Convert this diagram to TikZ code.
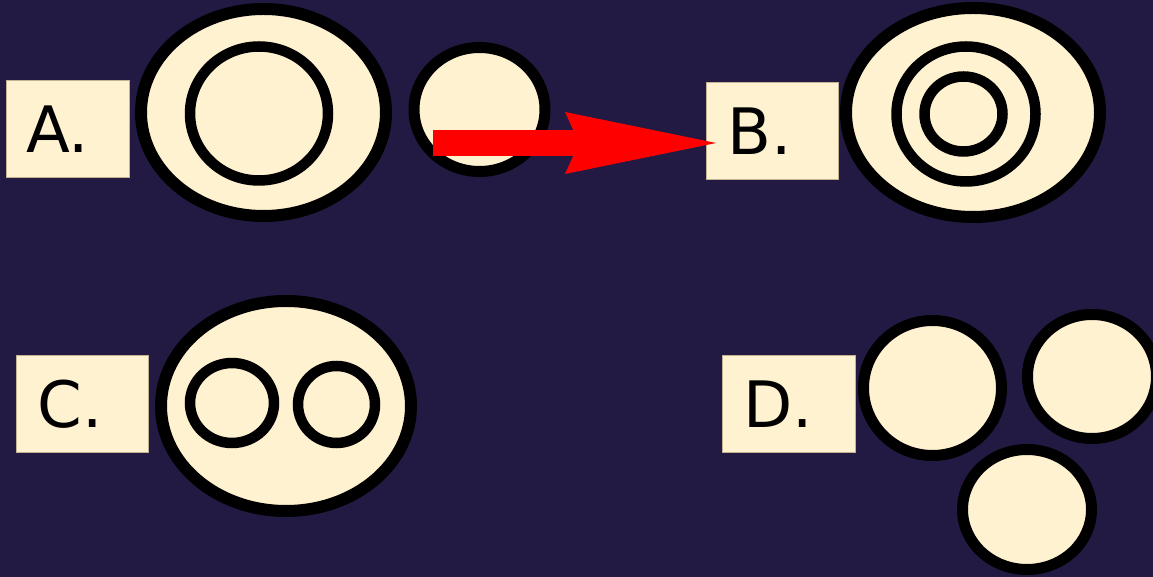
\documentclass[tikz,border=0pt]{standalone}
\usepackage{fontspec}
\setmainfont{DejaVu Sans}
\usetikzlibrary{shapes.geometric,arrows.meta}
\definecolor{bgnavy}{RGB}{34,26,66}
\definecolor{cream}{RGB}{255,242,208}
\definecolor{boxedge}{RGB}{196,178,146}
\tikzset{
  blob/.style={ellipse, draw=black, fill=cream, line width=12bp, inner sep=0pt},
  ring/.style={ellipse, draw=black, line width=10.5bp, inner sep=0pt},
  labelbox/.style={rectangle, draw=boxedge, fill=cream, line width=1bp,
    minimum height=97bp, inner xsep=21bp, inner ysep=0pt, text width=90bp,
    align=left, font=\fontsize{64bp}{70bp}\selectfont},
}
\begin{document}
\begin{tikzpicture}[>=Stealth]
  \fill[bgnavy] (0bp,0bp) rectangle (1153bp,577bp);
  \useasboundingbox (0bp,0bp) rectangle (1153bp,577bp);
%%
  % Node: Alabel
  \node[labelbox, text width=83bp, inner xsep=20bp] (Alabel) at (67.5bp,448bp) {A.};
  % Node: Aouter
  \node[blob, minimum width=245bp, minimum height=207bp] (Aouter) at (263.5bp,464.5bp) {};
  \node[ring, minimum width=138bp, minimum height=134bp] (Ainner) at (259bp,463.5bp) {};
  % Node: Asmall
  \node[blob, line width=11bp, minimum width=131bp, minimum height=124bp] (Asmall) at (479.5bp,467.5bp) {};
  % Node: Blabel
  \node[labelbox] (Blabel) at (772.5bp,445.5bp) {B.};
  % Node: Bouter
  \node[blob, minimum width=254bp, minimum height=209bp] (Bouter) at (973bp,464.5bp) {};
  \node[ring, minimum width=139bp, minimum height=135bp] (Bmid) at (966bp,463bp) {};
  \node[ring, minimum width=78bp, minimum height=75bp] (Binner) at (963.5bp,463bp) {};
  % Node: Clabel
  \node[labelbox] (Clabel) at (82.5bp,172.5bp) {C.};
  % Node: Couter
  \node[blob, minimum width=250bp, minimum height=210bp] (Couter) at (286bp,171bp) {};
  \node[ring, minimum width=84bp, minimum height=80bp] (Cleft) at (232bp,174bp) {};
  \node[ring, minimum width=77bp, minimum height=77bp] (Cright) at (336.5bp,172.5bp) {};
  % Node: Dlabel
  \node[labelbox, text width=91bp] (Dlabel) at (789bp,172.5bp) {D.};
  % Node: D1, D2, D3
  \node[blob, line width=11bp, minimum width=138bp, minimum height=135bp] (Done) at (932.5bp,189bp) {};
  \node[blob, line width=11bp, minimum width=129bp, minimum height=124bp] (Dtwo) at (1092bp,200.5bp) {};
  \node[blob, line width=11bp, minimum width=129bp, minimum height=120bp] (Dthree) at (1027bp,67.5bp) {};
  % Edge: Asmall -> Blabel
  \coordinate (arrowtail) at (433bp,434bp);
  \draw[-{Stealth[length=151bp,width=62bp,inset=14bp,line width=0pt]}, red, line width=26bp]
    (arrowtail) -- ([xshift=10bp]arrowtail -| Blabel.west);
%
\end{tikzpicture}
\end{document}
